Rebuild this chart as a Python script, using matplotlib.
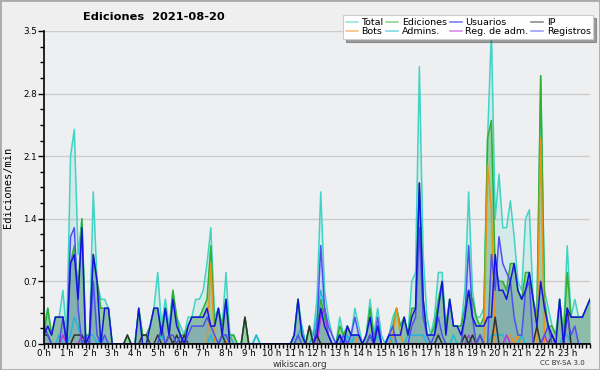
import numpy as np
import matplotlib
matplotlib.use("Agg")
import matplotlib.pyplot as plt
from matplotlib.ticker import MultipleLocator
from matplotlib.patches import Rectangle

# values per 10 minutes (edits/min), one row per hour, last value = 24:00
total = [0.2,0.4,0.1,0.3,0.3,0.6, 0.1,2.1,2.4,1.0,1.4,0.1, 0.1,1.7,0.7,0.5,0.5,0.4,
         0,0,0,0,0.1,0, 0,0.4,0.1,0.1,0.2,0.4, 0.8,0.2,0.5,0.2,0.6,0.3,
         0.2,0.1,0.3,0.3,0.5,0.5, 0.6,0.9,1.3,0.3,0.4,0.2, 0.8,0.1,0.1,0,0,0.3,
         0,0,0.1,0,0,0, 0,0,0,0,0,0, 0.1,0.5,0.2,0,0.2,0.1,
         0.5,1.7,0.6,0.3,0.1,0, 0.3,0.1,0.2,0.1,0.4,0.2, 0,0.1,0.5,0.1,0.4,0.1,
         0,0.1,0.3,0.4,0.2,0.3, 0.1,0.7,0.8,3.1,1.0,0.3, 0.1,0.3,0.8,0.8,0.2,0.5,
         0.2,0.2,0.2,0.6,1.7,0.6, 0.3,0.3,0.4,2.3,3.5,1.4, 1.9,1.3,1.3,1.6,1.2,0.7,
         0.6,1.4,1.5,0.5,0.3,3.0, 0.6,0.4,0.2,0.1,0.5,0.1, 1.1,0.3,0.5,0.3,0.3,0.4, 0.5]
ediciones = [0.1,0.4,0.1,0.3,0.3,0.3, 0,0.9,1.1,0.6,1.4,0.1, 0.1,1.0,0.7,0.4,0.4,0.4,
             0,0,0,0,0.1,0, 0,0.4,0.1,0.1,0.2,0.4, 0.4,0.1,0.4,0.1,0.6,0.3,
             0.1,0.1,0.2,0.3,0.3,0.3, 0.4,0.5,1.1,0.2,0.4,0.2, 0.5,0.1,0.1,0,0,0.3,
             0,0,0,0,0,0, 0,0,0,0,0,0, 0.1,0.5,0.1,0,0.2,0,
             0.2,0.5,0.3,0.1,0,0, 0.2,0.1,0.2,0.1,0.1,0.1, 0,0.1,0.4,0.1,0.2,0,
             0,0.1,0.2,0.4,0.2,0.3, 0.1,0.4,0.4,1.8,0.5,0.1, 0.1,0.2,0.5,0.7,0.2,0.5,
             0.2,0.2,0.2,0.4,0.6,0.5, 0.3,0.2,0.3,2.3,2.5,0.8, 0.7,0.7,0.6,0.9,0.9,0.6,
             0.5,0.8,0.8,0.5,0.3,3.0, 0.5,0.2,0.2,0.1,0.5,0.1, 0.8,0.3,0.3,0.3,0.3,0.4, 0.5]
usuarios = [0.1,0.2,0.1,0.3,0.3,0.3, 0,0.9,1.0,0.5,1.3,0, 0.1,1.0,0.7,0,0.4,0.4,
            0,0,0,0,0,0, 0,0.4,0,0,0.2,0.4, 0.4,0.1,0.4,0.1,0.5,0.2,
            0.1,0,0.2,0.3,0.3,0.3, 0.3,0.4,0.2,0.2,0.4,0.1, 0.5,0,0,0,0,0,
            0,0,0,0,0,0, 0,0,0,0,0,0, 0.1,0.5,0.1,0,0,0,
            0.1,0.4,0.2,0.1,0,0, 0.1,0,0.2,0.1,0.1,0.1, 0,0.1,0.3,0,0.2,0,
            0,0.1,0.1,0.1,0.1,0.3, 0.1,0.3,0.4,1.8,0.5,0.1, 0.1,0.1,0.4,0.7,0.1,0.5,
            0.2,0.2,0.1,0.3,0.6,0.3, 0.2,0.2,0.2,0.3,0.3,1.0, 0.6,0.6,0.5,0.7,0.9,0.6,
            0.5,0.6,0.8,0.5,0.2,0.7, 0.4,0.2,0.1,0,0.5,0, 0.4,0.3,0.3,0.3,0.3,0.4, 0.5]
ip = [0.1,0.1,0,0,0,0, 0,0,0.1,0.1,0.1,0, 0,0,0,0,0,0,
      0,0,0,0,0.1,0, 0,0,0.1,0.1,0,0, 0.1,0,0,0.1,0,0.1,
      0,0.1,0,0,0,0, 0,0,0,0,0,0.1, 0,0,0,0,0,0.3,
      0,0,0,0,0,0, 0,0,0,0,0,0, 0,0,0,0,0.2,0,
      0.1,0,0,0,0,0, 0.1,0,0,0,0,0, 0,0,0.1,0,0,0,
      0,0,0,0,0,0, 0,0,0,0,0,0, 0,0,0.1,0,0,0,
      0,0,0,0.1,0,0.1, 0,0.1,0,0,0,0.3, 0,0,0,0,0,0,
      0,0,0,0,0.2,0, 0,0,0.1,0,0,0, 0.4,0,0,0,0,0, 0]
bots = [0,0,0,0,0,0, 0,0,0,0,0,0, 0,0,0,0,0,0,
        0,0,0,0,0,0, 0,0,0,0,0,0, 0,0,0,0,0,0,
        0,0,0,0,0,0, 0,0,0.9,0,0,0, 0,0.1,0,0,0,0,
        0,0,0,0,0,0, 0,0,0,0,0,0, 0,0,0,0,0,0,
        0,0,0,0,0,0, 0,0,0,0,0,0.1, 0,0,0,0,0,0,
        0,0,0.1,0.4,0.1,0, 0,0,0,0,0,0, 0,0,0,0,0,0,
        0,0,0,0,0,0, 0,0,0,2.0,1.5,0, 0,0,0,0.1,0,0.1,
        0,0,0,0,0,2.3, 0,0,0.1,0,0,0, 0,0,0,0,0,0, 0]
admins = [0.2,0.1,0,0,0.1,0, 0,0.1,0.3,0.2,0,0, 0.1,0.1,0,0.1,0,0,
          0,0,0,0,0,0, 0,0,0,0,0,0, 0,0.1,0,0,0,0,
          0,0,0,0,0,0, 0,0,0.1,0,0,0, 0.1,0.1,0,0,0,0,
          0,0,0.1,0,0,0, 0,0,0,0,0,0, 0,0.1,0.2,0,0,0.1,
          0.3,0.6,0.4,0.1,0,0, 0.1,0,0.1,0,0.1,0.1, 0,0,0.1,0,0.1,0,
          0,0.1,0,0,0,0, 0.1,0.1,0.1,0.1,0.1,0, 0,0,0,0,0,0,
          0.1,0,0,0,0,0, 0,0,0,0,0.1,0.1, 0.1,0.1,0,0,0,0,
          0.1,0,0,0,0,0, 0,0,0,0,0,0.1, 0.1,0,0,0,0,0, 0]
reg_adm = [0,0,0,0,0,0.1, 0,0,0,0,0.1,0, 0,0,0,0,0,0,
           0,0,0,0,0,0, 0,0,0,0,0,0, 0,0,0,0,0,0,
           0,0,0,0,0,0, 0,0,0,0,0,0, 0,0,0,0,0,0,
           0,0,0,0,0,0, 0,0,0,0,0,0, 0,0,0,0,0,0,
           0,0.3,0.4,0.1,0,0, 0,0,0,0,0,0, 0,0,0,0,0.2,0,
           0,0,0,0,0,0, 0,0,0,0,0,0, 0,0,0,0,0,0,
           0,0,0,0,0.1,0, 0,0,0,0,0,0, 0,0,0.1,0,0,0,
           0,0,0,0,0,0, 0.1,0,0,0,0,0, 0,0,0,0,0,0, 0]
registros = [0.2,0.1,0,0,0,0.3, 0,1.2,1.3,0.4,0,0.1, 0,0.7,0.1,0,0.1,0,
             0,0,0,0,0,0, 0,0,0,0,0,0, 0,0.2,0,0.1,0.1,0,
             0.1,0,0.1,0.2,0.2,0.2, 0.2,0.3,0.2,0.1,0,0.1, 0.1,0,0,0,0,0,
             0,0,0,0,0,0, 0,0,0,0,0,0, 0,0.1,0,0,0,0,
             0.2,1.1,0.4,0.2,0.1,0, 0,0.1,0,0.1,0.3,0.1, 0,0,0.1,0,0.3,0,
             0,0.1,0.2,0,0,0, 0,0.2,0.3,1.3,0.3,0.1, 0,0.1,0.3,0.1,0,0,
             0,0,0,0.3,1.1,0.3, 0,0.1,0,0,1.0,0.6, 1.2,0.9,0.8,0.7,0.3,0.1,
             0.1,0.6,0.7,0,0,0, 0.1,0.2,0,0,0,0, 0.3,0.1,0.2,0,0,0, 0]

hour_labels = ["%d h" % h for h in range(24)]

x = np.arange(len(total)) * 10 / 60.0

fig = plt.figure(figsize=(6, 3.7), dpi=100, facecolor="#efefef")
fig.patches.append(Rectangle((0, 0), 1, 1, transform=fig.transFigure,
                             fill=False, edgecolor="#aaaaaa", linewidth=2))
ax = fig.add_axes([0.0733, 0.0703, 0.91, 0.846], facecolor="#eeeff1")

# filled areas
ax.fill_between(x, total, color="#40d0c0", alpha=0.15, lw=0)
ax.fill_between(x, ediciones, color="#50b050", alpha=0.45, lw=0)
ax.fill_between(x, registros, color="#5050f0", alpha=0.1, lw=0)
ax.fill_between(x, usuarios, color="#2020d0", alpha=0.1, lw=0)

lw = 1.1
ax.plot(x, total, color="#40d4c4", lw=lw, label="Total")
ax.plot(x, ediciones, color="#30b030", lw=lw, label="Ediciones")
ax.plot(x, bots, color="#f09018", lw=lw, label="Bots")
ax.plot(x, admins, color="#20b8d8", lw=lw, label="Admins.")
ax.plot(x, reg_adm, color="#c030e0", lw=lw, label="Reg. de adm.")
ax.plot(x, ip, color="#303030", lw=lw, label="IP")
ax.plot(x, registros, color="#5050f0", lw=lw, label="Registros")
ax.plot(x, usuarios, color="#1414e0", lw=lw, label="Usuarios")

ax.set_xlim(0, 24)
ax.set_ylim(0, 3.5)
ax.set_xticks(range(24))
ax.set_xticklabels(hour_labels, fontsize=6.3)
ax.xaxis.set_minor_locator(MultipleLocator(1 / 6))
ax.set_yticks(np.arange(0, 3.6, 0.7))
ax.set_yticklabels(["%.1f" % v for v in np.arange(0, 3.6, 0.7)], fontsize=6.3)
ax.tick_params(axis="x", which="major", length=3.5, width=1, pad=0)
ax.tick_params(axis="y", which="major", length=4, width=1, pad=1)
ax.yaxis.set_minor_locator(MultipleLocator(0.175))
ax.tick_params(axis="both", which="minor", length=3, width=1)
ax.grid(axis="y", color="#cccccc", lw=1)
ax.set_axisbelow(True)
for s in ["top", "right"]:
    ax.spines[s].set_visible(False)
ax.spines["left"].set_linewidth(1.2)
ax.spines["bottom"].set_linewidth(1.2)

ax.set_ylabel("Ediciones/min", fontsize=7.5, family="DejaVu Sans Mono", labelpad=7)
fig.text(0.257, 0.953, "Ediciones  2021-08-20", fontsize=8.2, fontweight="bold",
         ha="center", va="center")
fig.text(0.5, 0.016, "wikiscan.org", fontsize=6.3, ha="center", va="center", color="#333333")
fig.text(0.975, 0.018, "CC BY-SA 3.0", fontsize=5, ha="right", va="center", color="#333333")

# legend in column order
h, l = ax.get_legend_handles_labels()
order = ["Total", "Bots", "Ediciones", "Admins.", "Usuarios", "Reg. de adm.", "IP", "Registros"]
hd = dict(zip(l, h))
leg = fig.legend([hd[k] for k in order], order, ncol=4, loc="upper right",
                 bbox_to_anchor=(0.997, 0.972), fontsize=6.8, frameon=True,
                 fancybox=False, shadow=True, handlelength=1.3, handletextpad=0.35,
                 columnspacing=0.3, labelspacing=0.05, borderpad=0.3)
leg.get_frame().set_edgecolor("#cccccc")
leg.get_frame().set_linewidth(0.8)
for lh in leg.get_lines():
    lh.set_alpha(0.6)

fig.savefig("out.png", dpi=100, facecolor=fig.get_facecolor())
